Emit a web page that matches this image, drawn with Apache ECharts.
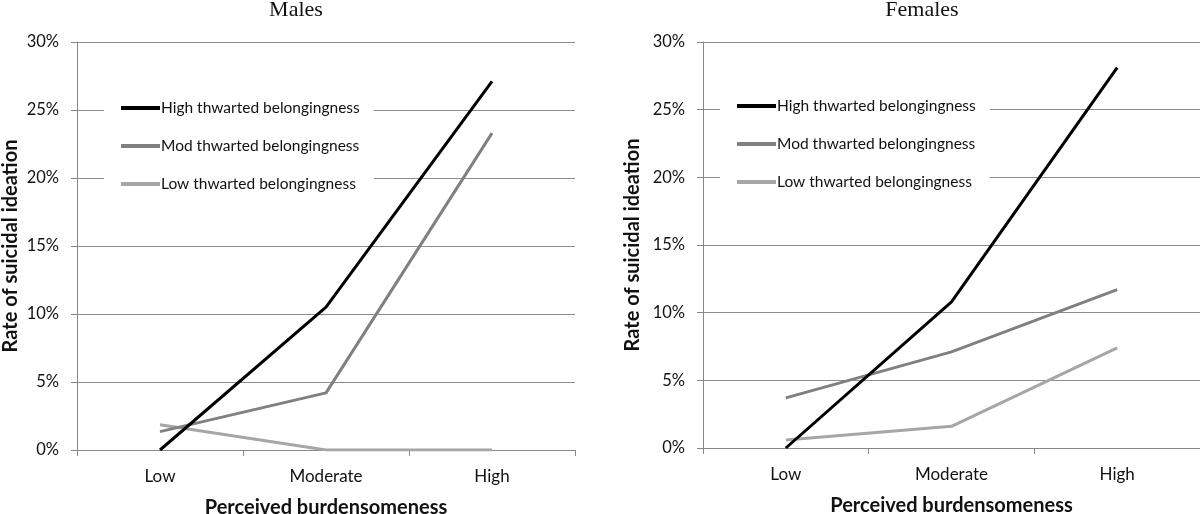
<!DOCTYPE html>
<html>
<head>
<meta charset="utf-8">
<script src="https://cdn.jsdelivr.net/npm/echarts@6/dist/echarts.min.js"></script>
<style>
html,body{margin:0;padding:0;background:#fff;}
#c{width:1200px;height:514px;}
</style>
</head>
<body>
<div id="c"></div>
<script>
const categories = ['Low', 'Moderate', 'High'];
const seriesNames = ['High thwarted belongingness', 'Mod thwarted belongingness', 'Low thwarted belongingness'];
const maleHigh = [0, 10.5, 27.1];
const maleMod = [1.35, 4.2, 23.3];
const maleLow = [1.85, 0, 0];
const femaleHigh = [0, 10.8, 28.1];
const femaleMod = [3.7, 7.1, 11.7];
const femaleLow = [0.6, 1.6, 7.4];
const yTicks = [0, 5, 10, 15, 20, 25, 30];
const panelTitles = ['Males', 'Females'];

const colors = ['#000000', '#808080', '#a6a6a6'];
const font = 'Lato, "Open Sans", sans-serif';
const grids = [
  {left: 77, top: 42, width: 498, height: 408, outerBoundsMode: 'none', containLabel: false},
  {left: 703, top: 42, width: 497, height: 406, outerBoundsMode: 'none', containLabel: false}
];
const chart = echarts.init(document.getElementById('c'), null, {renderer: 'canvas'});

function xAxis(i) {
  return {
    type: 'category', gridIndex: i, data: categories, boundaryGap: true,
    axisLine: {show: true, lineStyle: {color: '#888', width: 1}},
    axisTick: {show: true, length: 6, alignWithLabel: false, lineStyle: {color: '#888'}},
    axisLabel: {color: '#111', fontSize: 17, fontFamily: font, margin: 18},
    name: 'Perceived burdensomeness', nameLocation: 'middle', nameGap: 48,
    nameTextStyle: {fontSize: 20, fontWeight: 'bold', color: '#111', fontFamily: font}
  };
}
function yAxis(i, gap) {
  return {
    type: 'value', gridIndex: i, min: 0, max: 30, interval: 5,
    axisLine: {show: true, lineStyle: {color: '#888', width: 1}},
    axisTick: {show: true, length: 6, lineStyle: {color: '#888'}},
    axisLabel: {color: '#111', fontSize: 16.5, fontFamily: font, margin: 18,
      formatter: v => yTicks.includes(v) ? v + '%' : ''},
    splitLine: {show: true, lineStyle: {color: '#8c8c8c', width: 1}},
    name: 'Rate of suicidal ideation', nameLocation: 'middle', nameRotate: 90, nameGap: gap,
    nameTextStyle: {fontSize: 20, fontWeight: 'bold', color: '#111', fontFamily: font}
  };
}
function legend(left, top) {
  return {
    left: left, top: top, orient: 'vertical', backgroundColor: '#fff',
    padding: [8, 14, 8, 17], itemGap: 22, itemWidth: 39, itemHeight: 4, icon: 'rect',
    data: seriesNames,
    textStyle: {fontSize: 15.5, color: '#111', fontFamily: font, padding: [0, 0, 0, -4]}
  };
}
function line(name, data, idx, g) {
  return {
    name: name, type: 'line', xAxisIndex: g, yAxisIndex: g, data: data,
    symbol: 'none', lineStyle: {color: colors[idx], width: 3}, itemStyle: {color: colors[idx]},
    z: 3 - idx
  };
}

chart.setOption({
  animation: false,
  color: colors,
  title: [
    {text: panelTitles[0], left: 291, top: -6, textAlign: 'center',
     textStyle: {fontFamily: '"Liberation Serif", serif', fontSize: 22, fontWeight: 'normal', color: '#111'}},
    {text: panelTitles[1], left: 917, top: -6, textAlign: 'center',
     textStyle: {fontFamily: '"Liberation Serif", serif', fontSize: 22, fontWeight: 'normal', color: '#111'}}
  ],
  grid: grids,
  xAxis: [xAxis(0), xAxis(1)],
  yAxis: [yAxis(0, 56), yAxis(1, 60)],
  legend: [legend(104, 92), legend(720, 90)],
  series: [
    line(seriesNames[0], maleHigh, 0, 0),
    line(seriesNames[1], maleMod, 1, 0),
    line(seriesNames[2], maleLow, 2, 0),
    line(seriesNames[0], femaleHigh, 0, 1),
    line(seriesNames[1], femaleMod, 1, 1),
    line(seriesNames[2], femaleLow, 2, 1)
  ]
});
</script>
</body>
</html>
